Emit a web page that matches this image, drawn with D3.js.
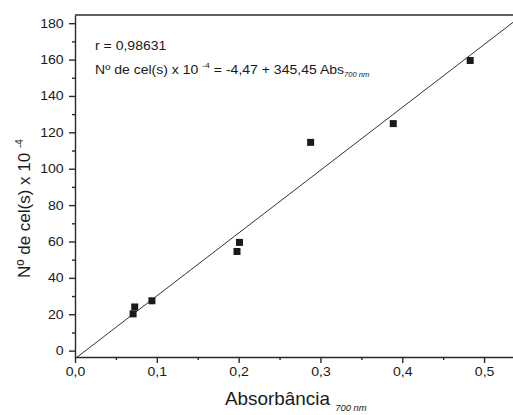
<!DOCTYPE html>
<html>
<head>
<meta charset="utf-8">
<script src="https://cdn.jsdelivr.net/npm/d3@7"></script>
<style>
  html, body { margin: 0; padding: 0; background: #fff; overflow: hidden; }
  svg { display: block; }
  text { font-family: "Liberation Sans", Arial, sans-serif; fill: #1a1a1a; }
</style>
</head>
<body>
<div id="chart"></div>
<script>
// data
var absorbance = [0.071, 0.073, 0.094, 0.198, 0.201, 0.288, 0.389, 0.483];
var cells = [20.2, 24.0, 27.4, 54.5, 59.5, 114.5, 124.8, 159.5];
var xTicks = [0, 0.1, 0.2, 0.3, 0.4, 0.5];
var xMinor = [0.05, 0.15, 0.25, 0.35, 0.45];
var yTicks = [0, 20, 40, 60, 80, 100, 120, 140, 160, 180];
var yMinor = [10, 30, 50, 70, 90, 110, 130, 150, 170];
var fit = {a: -4.47, b: 345.45};

var setWidth = 513, setHeight = 415;
var margin = {top: 15, right: -12, bottom: 58, left: 75};
var width = setWidth - margin.left - margin.right;
var height = setHeight - margin.top - margin.bottom;

var svg = d3.select("#chart")
    .append("svg")
    .attr("width", setWidth)
    .attr("height", setHeight)
    .append("g")
    .attr("transform", "translate(" + margin.left + "," + margin.top + ")");

var x = d3.scaleLinear().domain([0, 0.55]).range([0, width]);
var y = d3.scaleLinear().domain([-3.5, 184.5]).range([height, 0]);

var comma = function (d) { return d3.format(".1f")(d).replace(".", ","); };

// clip for the fit line
svg.append("clipPath").attr("id", "clip")
    .append("rect").attr("width", width).attr("height", height);

// regression line
svg.append("line")
    .attr("clip-path", "url(#clip)")
    .attr("x1", x(0)).attr("y1", y(fit.a))
    .attr("x2", x(0.55)).attr("y2", y(fit.a + fit.b * 0.55))
    .attr("stroke", "#333").attr("stroke-width", 1);

// points
svg.selectAll("rect.pt")
    .data(absorbance)
    .join("rect")
    .attr("class", "pt")
    .attr("x", function (d) { return x(d) - 3.5; })
    .attr("y", function (d, i) { return y(cells[i]) - 3.5; })
    .attr("width", 7).attr("height", 7)
    .attr("fill", "#1a1a1a");

// x axis (outer ticks off so nothing lands on the page edge)
svg.append("g")
    .attr("transform", "translate(0," + height + ")")
    .call(d3.axisBottom(x).tickValues(xTicks).tickFormat(comma).tickSize(6).tickSizeOuter(0).tickPadding(4));
svg.append("g")
    .attr("transform", "translate(0," + height + ")")
    .call(d3.axisBottom(x).tickValues(xMinor).tickFormat("").tickSize(3))
    .select(".domain").remove();

// y axis
svg.append("g")
    .call(d3.axisLeft(y).tickValues(yTicks).tickFormat(d3.format("d")).tickSize(6).tickSizeOuter(0).tickPadding(4));
svg.append("g")
    .call(d3.axisLeft(y).tickValues(yMinor).tickFormat("").tickSize(3))
    .select(".domain").remove();

svg.selectAll(".tick text")
    .style("font-size", "12.5px")
    .style("font-family", "Liberation Sans, Arial, sans-serif")
    .attr("fill", "#1a1a1a")
    .attr("transform", "scale(1.13,1)");
svg.selectAll(".domain, .tick line").attr("stroke", "#2a2a2a").attr("stroke-width", 1.4);

// top frame line
svg.append("line")
    .attr("x1", 0).attr("x2", width).attr("y1", 0).attr("y2", 0)
    .attr("stroke", "#2a2a2a").attr("stroke-width", 1.5);

// annotation
var note = svg.append("g").attr("transform", "translate(20,0) scale(1.08,1)");
note.append("text")
    .attr("x", 0).attr("y", 35)
    .style("font-size", "13px")
    .text("r  = 0,98631");

var eq = note.append("text")
    .attr("x", 0).attr("y", 59)
    .style("font-size", "13px");
eq.append("tspan").text("Nº de cel(s) x 10 ");
eq.append("tspan").attr("dy", -6).style("font-size", "8px").text("-4");
eq.append("tspan").attr("dy", 6).text(" = -4,47 + 345,45 Abs");
eq.append("tspan").attr("dy", 3).style("font-size", "7px").style("font-style", "italic").text("700 nm");

// axis labels
var xl = svg.append("text")
    .attr("x", 150).attr("y", height + 48)
    .attr("transform", "translate(150,0) scale(1.05,1) translate(-150,0)")
    .style("font-size", "18px");
xl.append("tspan").text("Absorbância ");
xl.append("tspan").attr("dy", 6).style("font-size", "9px").style("font-style", "italic").text("700 nm");

var yl = svg.append("text")
    .attr("transform", "rotate(-90)")
    .attr("x", -263).attr("y", -45)
    .style("font-size", "17px");
yl.append("tspan").text("Nº de cel(s) x 10 ");
yl.append("tspan").attr("dy", -7).style("font-size", "10px").text("-4");
</script>
</body>
</html>
